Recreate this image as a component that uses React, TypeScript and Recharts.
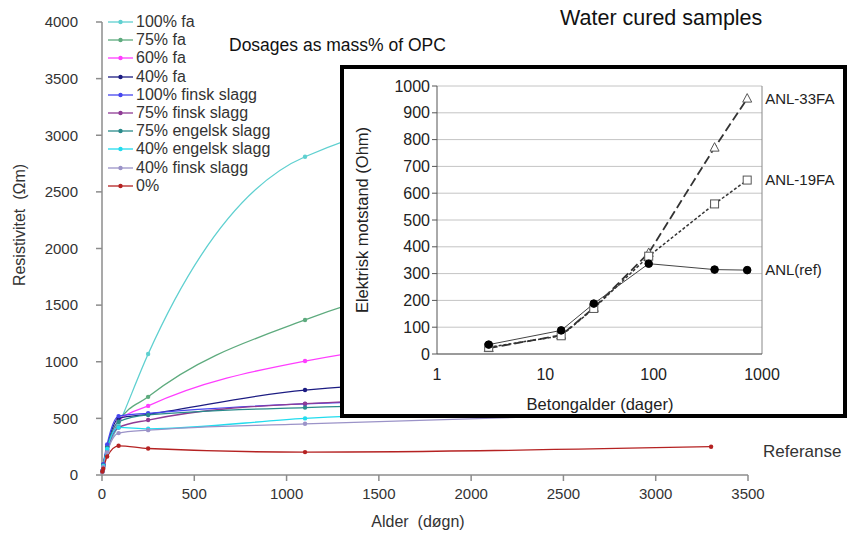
import { CartesianGrid, Line, LineChart, ReferenceLine, XAxis, YAxis } from "recharts";

// main chart: resistivity vs age (days)
const days = [2, 7, 28, 90, 250, 1100, 3300];
const fa100 = [30, 70, 210, 440, 1068, 2810, 3575];
const fa75 = [30, 75, 220, 470, 690, 1369, 2050];
const fa60 = [30, 80, 230, 480, 610, 1006, 1350];
const fa40 = [35, 90, 250, 500, 536, 750, 900];
const fs100 = [35, 95, 270, 520, 545, 628, 700];
const fs75 = [30, 80, 220, 420, 485, 630, 720];
const es75 = [30, 85, 240, 470, 530, 595, 650];
const es40 = [30, 80, 230, 420, 408, 500, 600];
const fs40 = [25, 70, 200, 370, 396, 452, 560];
const ref0 = [30, 55, 164, 258, 234, 202, 250];

const seriesNames = [
  "100% fa",
  "75% fa",
  "60% fa",
  "40% fa",
  "100% finsk slagg",
  "75% finsk slagg",
  "75% engelsk slagg",
  "40% engelsk slagg",
  "40% finsk slagg",
  "0%",
];
const seriesValues = [fa100, fa75, fa60, fa40, fs100, fs75, es75, es40, fs40, ref0];
const seriesColors = [
  "#5fd0d0",
  "#5eab7e",
  "#ff3dff",
  "#1c1c82",
  "#4646ee",
  "#8f3b95",
  "#2a8b8b",
  "#22dcee",
  "#9b93c8",
  "#b52222",
];
const yTicks = [0, 500, 1000, 1500, 2000, 2500, 3000, 3500, 4000];
const xTicks = [0, 500, 1000, 1500, 2000, 2500, 3000, 3500];

// inset: electrical resistance vs concrete age (log)
const insetDays = [3, 14, 28, 90, 365, 730];
const anl33fa = [22, 70, 172, 377, 770, 953];
const anl19fa = [25, 68, 170, 365, 560, 649];
const anlRef = [35, 88, 188, 337, 315, 313];
const insetYTicks = [0, 100, 200, 300, 400, 500, 600, 700, 800, 900, 1000];
const insetXTicks = [1, 10, 100, 1000];

const mainData = days.map((d, i) => {
  const row: Record<string, number> = { day: d };
  seriesValues.forEach((vals, k) => {
    row[`s${k}`] = vals[i];
  });
  return row;
});

const insetData = insetDays.map((d, i) => ({
  day: d,
  fa33: anl33fa[i],
  fa19: anl19fa[i],
  ref: anlRef[i],
}));

const FONT = '"Liberation Sans", Arial, sans-serif';

function SeriesLegend() {
  return (
    <div style={{ position: "absolute", left: 108, top: 13, fontSize: 16, color: "#333" }}>
      {seriesNames.map((name, k) => (
        <div key={name} style={{ display: "flex", alignItems: "center", height: 18.2 }}>
          <svg width={26} height={10} style={{ marginRight: 2 }}>
            <line x1={0} y1={5} x2={25} y2={5} stroke={seriesColors[k]} strokeWidth={1.3} />
            <circle cx={12.5} cy={5} r={2.2} fill={seriesColors[k]} />
          </svg>
          <span style={{ lineHeight: "18px", whiteSpace: "nowrap" }}>{name}</span>
        </div>
      ))}
    </div>
  );
}

function TriangleDot(props: any) {
  const { cx, cy } = props;
  if (cx == null || cy == null) return null;
  return (
    <path
      d={`M${cx},${cy - 5}L${cx + 4.5},${cy + 3.5}L${cx - 4.5},${cy + 3.5}Z`}
      fill="#fff"
      stroke="#555"
      strokeWidth={1}
    />
  );
}

function SquareDot(props: any) {
  const { cx, cy } = props;
  if (cx == null || cy == null) return null;
  return <rect x={cx - 4} y={cy - 4} width={8} height={8} fill="#fff" stroke="#555" strokeWidth={1} />;
}

const endLabel = (text: string) => (props: any) => {
  if (props.index !== insetDays.length - 1) return null;
  return (
    <text x={props.x + 18} y={props.y} dy={5} fontSize={15} fill="#222">
      {text}
    </text>
  );
};

export default function App() {
  return (
    <div
      style={{
        position: "absolute",
        left: 0,
        top: 0,
        width: 847,
        height: 542,
        background: "#fff",
        fontFamily: FONT,
        overflow: "hidden",
      }}
    >
      <LineChart width={847} height={542} data={mainData} margin={{ top: 22, right: 99, left: 0, bottom: 12 }}>
        <XAxis
          dataKey="day"
          type="number"
          domain={[0, 3500]}
          ticks={xTicks}
          height={55}
          stroke="#8c8c8c"
          strokeWidth={1.5}
          tickSize={6}
          tickMargin={7}
          tick={{ fontSize: 15, fill: "#333" }}
        />
        <YAxis
          type="number"
          domain={[0, 4000]}
          ticks={yTicks}
          width={102}
          stroke="#8c8c8c"
          strokeWidth={1.5}
          tickSize={6}
          tickMargin={18}
          tick={{ fontSize: 15, fill: "#333" }}
        />
        {seriesNames.map((name, k) => (
          <Line
            key={name}
            dataKey={`s${k}`}
            name={name}
            type="monotone"
            stroke={seriesColors[k]}
            strokeWidth={1.3}
            dot={{ r: 2.2, fill: seriesColors[k], stroke: seriesColors[k], strokeWidth: 0 }}
            isAnimationActive={false}
          />
        ))}
      </LineChart>

      <SeriesLegend />

      <div style={{ position: "absolute", left: 418, top: 522, transform: "translate(-50%,-50%)", fontSize: 16, color: "#333", whiteSpace: "pre" }}>
        Alder  (døgn)
      </div>
      <div
        style={{
          position: "absolute",
          left: 20,
          top: 225,
          transform: "translate(-50%,-50%) rotate(-90deg)",
          fontSize: 16,
          color: "#333",
          whiteSpace: "pre",
        }}
      >
        Resistivitet  (Ωm)
      </div>
      <div style={{ position: "absolute", left: 560, top: 6, fontSize: 21.5, lineHeight: "24px", color: "#111", whiteSpace: "nowrap" }}>
        Water cured samples
      </div>
      <div style={{ position: "absolute", left: 229, top: 35, fontSize: 17.5, lineHeight: "20px", color: "#111", whiteSpace: "nowrap" }}>
        Dosages as mass% of OPC
      </div>
      <div style={{ position: "absolute", left: 763, top: 441, fontSize: 17, lineHeight: "22px", color: "#333", whiteSpace: "nowrap" }}>
        Referanse
      </div>

      <div
        style={{
          position: "absolute",
          left: 340,
          top: 65,
          width: 507,
          height: 353,
          boxSizing: "border-box",
          border: "4px solid #000",
          background: "#fff",
        }}
      >
        <LineChart width={499} height={345} data={insetData} margin={{ top: 17, right: 81, left: 0, bottom: 4 }}>
          <CartesianGrid vertical={false} stroke="#c4c4c4" />
          <XAxis
            dataKey="day"
            type="number"
            scale="log"
            domain={[1, 1000]}
            ticks={insetXTicks}
            allowDataOverflow
            height={56}
            stroke="#555"
            tickSize={0}
            tickMargin={15}
            tick={{ fontSize: 16, fill: "#222" }}
          />
          <YAxis
            type="number"
            domain={[0, 1000]}
            ticks={insetYTicks}
            width={93}
            stroke="#555"
            tickSize={5}
            tickMargin={2}
            tick={{ fontSize: 16, fill: "#222" }}
          />
          <ReferenceLine x={1000} stroke="#888" />
          <Line
            dataKey="fa33"
            type="linear"
            stroke="#333"
            strokeWidth={1.8}
            strokeDasharray="9 4"
            dot={<TriangleDot />}
            label={endLabel("ANL-33FA")}
            isAnimationActive={false}
          />
          <Line
            dataKey="fa19"
            type="linear"
            stroke="#333"
            strokeWidth={1.5}
            strokeDasharray="3 2"
            dot={<SquareDot />}
            label={endLabel("ANL-19FA")}
            isAnimationActive={false}
          />
          <Line
            dataKey="ref"
            type="linear"
            stroke="#444"
            strokeWidth={1}
            dot={{ r: 3.8, fill: "#000", stroke: "#000" }}
            label={endLabel("ANL(ref)")}
            isAnimationActive={false}
          />
        </LineChart>
        <div
          style={{
            position: "absolute",
            left: 18,
            top: 151,
            transform: "translate(-50%,-50%) rotate(-90deg)",
            fontSize: 16.5,
            color: "#222",
            whiteSpace: "nowrap",
          }}
        >
          Elektrisk motstand (Ohm)
        </div>
        <div style={{ position: "absolute", left: 256, top: 335, transform: "translate(-50%,-50%)", fontSize: 16.5, color: "#222", whiteSpace: "nowrap" }}>
          Betongalder (dager)
        </div>
      </div>
    </div>
  );
}
